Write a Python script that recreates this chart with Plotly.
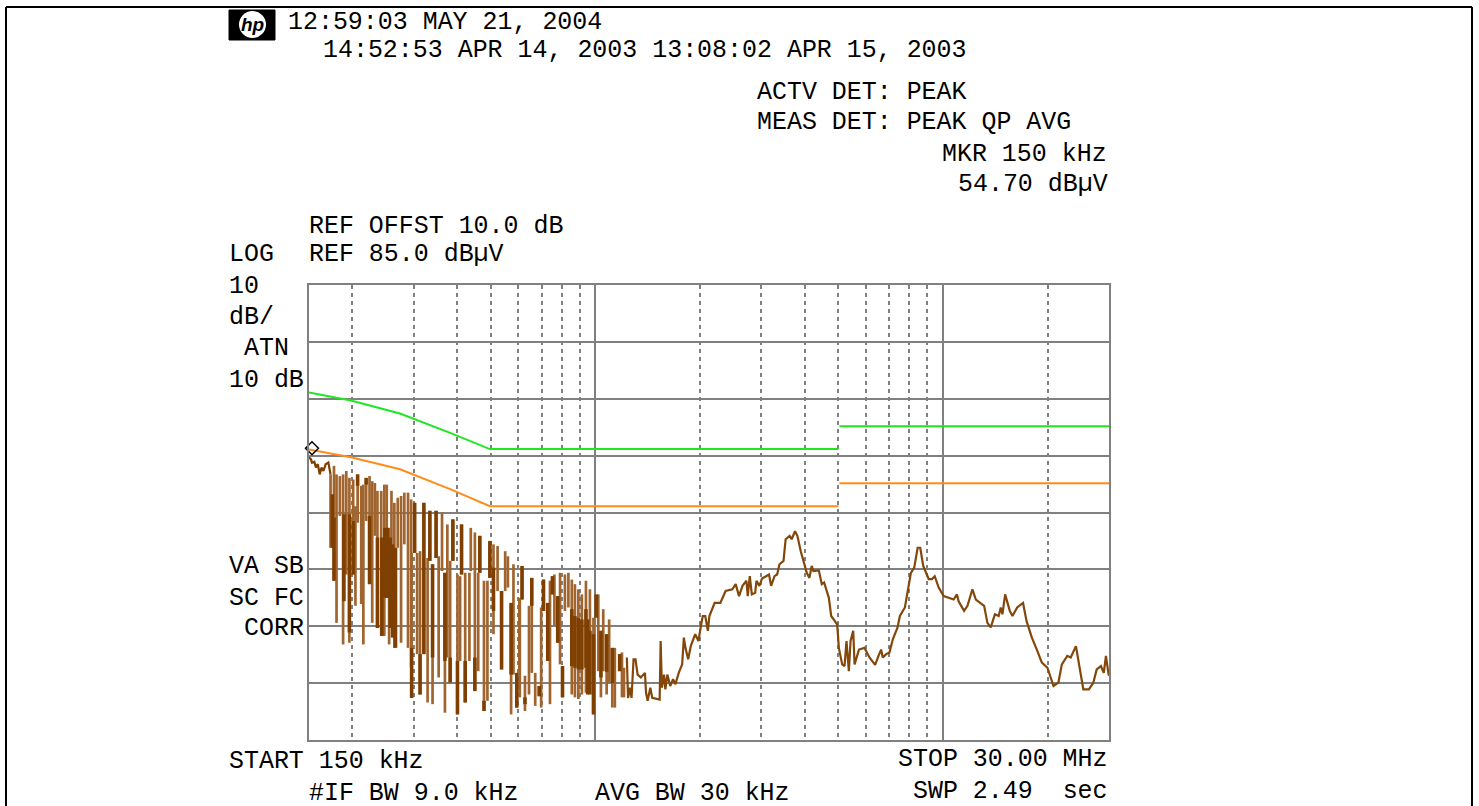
import plotly.graph_objects as go

# ---------- data ----------
start_khz = [150, 152, 153, 155.4, 157, 159, 161, 163, 165, 167.5, 170.5, 173]
start_db = [54.7, 54.35, 53.76, 53.94, 52.9, 53.5, 51.7, 52.9, 52.3, 53.5, 53.8, 51.7]

comb_khz = [173, 177, 180, 184, 188, 192, 196, 201, 204, 207, 212, 215, 219, 224, 228, 232, 236, 242, 247, 251,
            255, 259, 264, 270, 276, 282, 289, 295, 296, 302, 307, 313, 321, 329, 334, 340, 348, 354, 362, 369,
            375, 382, 389, 401, 408, 412, 422, 434, 438, 450, 460, 465, 478, 489, 497, 509, 523, 537, 550, 560,
            572, 581, 594, 604, 606, 615, 627, 644, 656, 671, 689, 698, 709, 729, 740, 752, 762, 779, 791, 804,
            817, 836, 855, 873, 893, 914, 939, 964, 987, 1019, 1037, 1053, 1077, 1095, 1118, 1137, 1174, 1192, 1208]
comb_top = [51.7, 53.2, 51.7, 51.4, 51.7, 52.3, 51.1, 50.8, 46.1, 51.7, 49.7, 49.9, 50.5, 51.4, 50.5, 50.2, 48.8, 48.8, 49.9, 49.9,
            42.3, 48.8, 46.7, 47.6, 47.9, 48.5, 48.5, 47.3, 37.9, 46.7, 37.9, 38.2, 46.7, 37, 45.3, 35.9, 45.3, 37.3, 45, 34.4,
            42.9, 36.5, 43.8, 34.1, 33.8, 42.9, 34.4, 34.4, 42.3, 41.5, 34.4, 40.9, 33, 33, 40, 39.4, 39.1, 31.2, 38.2, 37.3,
            29.1, 35.9, 16.8, 30, 29.7, 35.6, 16.3, 28.6, 33.5, 16.8, 14.5, 28.3, 33.2, 29.1, 33, 33.8, 34.1, 30.3, 34.4, 18,
            34.1, 34.4, 33.2, 32.4, 31.5, 30.6, 33, 31.5, 26.5, 30.6, 24.2, 28, 23.6, 26.2, 21.2, 21.2, 20.1, 20.4, 17.7]
comb_bot = [38.8, 33, 25.6, 44.4, 21.8, 34.1, 22.1, 34.1, 28.6, 43.2, 28.9, 21.8, 43.5, 32.4, 25.6, 40.9, 24.7, 23.3, 23.3, 30,
            21.8, 24.7, 21.2, 38.8, 22.1, 39.4, 21.2, 17.7, 12.4, 37.9, 20.1, 13, 20.1, 11.6, 36.5, 11.3, 37, 16, 34.7, 9.8,
            19.5, 15.1, 36.5, 9.5, 18.9, 34.1, 11.6, 18.9, 34.7, 13.6, 17.1, 34.4, 10.1, 11.9, 33.5, 23.6, 31.2, 17.4, 31.2, 31.8,
            9.5, 16.5, 10.7, 17.1, 12.5, 29.7, 10.1, 13, 16.8, 11, 12.7, 10.7, 27.7, 18.9, 11.3, 30.6, 25, 22.1, 18.3, 12.5,
            27.7, 28.3, 13, 12.5, 12.2, 13, 13.3, 16, 9.5, 17.1, 12.5, 17.1, 13, 15.1, 10.7, 10.7, 17.1, 12.5, 12.5]

dense_khz = [175, 177, 189, 196, 201, 207, 219, 224, 236, 243, 248, 252, 257, 261, 266, 296, 302, 313, 321, 334, 340, 348,
             369, 382, 389, 401, 412, 422, 450, 465, 478, 497, 509, 537, 572, 594, 615, 627, 656, 689, 709, 729, 752, 779,
             804, 855, 873, 893, 914, 939, 950, 964, 987, 1005, 1037, 1077, 1118, 1174]
dense_top = [48.2, 44.1, 44.7, 44.7, 43.5, 51.7, 51.1, 44.4, 40.6, 40.6, 42.3, 42.3, 40.6, 39.4, 38.8, 21.2, 46.7, 20.1, 46.7, 45.3, 35.9, 45.3,
             34.4, 19.5, 43.8, 18.9, 42.9, 18.9, 19.5, 40.9, 11.9, 40, 35.3, 31.2, 29.1, 16.8, 35.6, 12.5, 33.5, 14.5, 33.2, 29.1, 33.8, 30.3,
             18, 28, 26.8, 26.5, 26.2, 28, 26.2, 24.2, 23.6, 30.6, 24.2, 23.6, 21.2, 20.1]
dense_bot = [38.8, 33, 29.4, 23.9, 34.1, 49.7, 49.9, 32.4, 24.7, 23.3, 30, 30, 24.7, 23, 21.2, 12.4, 37.9, 13, 20.1, 36.5, 19.5, 37,
             18.9, 15.1, 36.5, 9.5, 34.1, 11.6, 13.6, 34.4, 10.1, 33.5, 27.7, 17.4, 16.5, 10.7, 29.7, 11.3, 28.6, 12.7, 27.7, 18.9, 30.6, 22.1,
             12.5, 18, 17.7, 17.4, 17.4, 17.7, 13, 13, 9.5, 26.5, 16, 17, 15, 17.1]

trace_mhz = [1.231, 1.241, 1.258, 1.270, 1.287, 1.304, 1.322, 1.351, 1.388, 1.398, 1.413, 1.438, 1.457, 1.530, 1.540, 1.553,
             1.575, 1.589, 1.610, 1.641, 1.672, 1.698, 1.736, 1.776, 1.796, 1.815, 1.848, 1.880,
             1.936, 1.978, 2.014, 2.036, 2.069, 2.106, 2.127, 2.202, 2.287,
             2.368, 2.476, 2.532, 2.588, 2.648, 2.718, 2.742, 2.779, 2.817, 2.880, 2.905,
             2.961, 3.015, 3.096, 3.157, 3.201, 3.273, 3.331, 3.383, 3.475, 3.524, 3.618, 3.668,
             3.750, 3.809, 3.895, 3.982, 4.053, 4.125, 4.188, 4.236, 4.390, 4.477, 4.547,
             4.691, 4.765, 4.872, 4.958, 5.013, 5.125, 5.205, 5.273, 5.357, 5.417, 5.513, 5.563, 5.727,
             5.939, 6.140, 6.375, 6.518, 6.632, 6.705, 6.857, 7.009, 7.167,
             7.395, 7.510, 7.763, 7.902, 8.079, 8.259, 8.448, 8.595, 8.765,
             9.09, 9.29, 9.46, 9.71, 10.04, 10.37, 10.72, 10.96, 11.08,
             11.49, 11.75, 12.14, 12.42, 13.12, 13.41, 13.71, 14.09,
             14.45, 14.65, 14.81, 15.08, 15.55, 15.83, 16.33, 16.98, 17.38,
             18.0, 18.60, 19.23, 19.96, 20.77, 21.46, 21.95,
             22.76, 23.28, 24.10, 24.76, 25.31, 26.27, 27.05, 27.65,
             28.44, 28.98, 29.40, 29.87, 30.0]
trace_db = [19.5, 12.4, 14.2, 12.4, 19.2, 19.2, 16.5, 16, 16.8, 13.3, 11.9, 14.2, 12.4, 12.1, 22.4, 14.2,
            16.5, 13.9, 16.5, 14.5, 15.7, 14.8, 16.8, 18.3, 23, 21.2, 19.2, 21.5,
            23.6, 22.4, 25.3, 26.8, 26.8, 24.2, 26.8, 29.1, 29.1,
            31.2, 31.5, 32.4, 30.3, 32.1, 33, 30.3, 33.8, 30.6, 30.9, 33,
            32.1, 33.4, 33.8, 34.1, 32.1, 33.8, 34.1, 35.9, 36.5, 40.3, 40.9, 40.3,
            41.7, 40.9, 38.2, 35.9, 34.4, 33.5, 35.6, 34.7, 34.8, 32.4, 32.7,
            30, 26.8, 26, 25.3, 21.2, 18.3, 18, 22.4, 17.1, 22.4, 24.2, 18.3, 20.9,
            21.2, 19.5, 18.2, 19.8, 20.9, 19.5, 20.1, 20.4, 22.7,
            24.8, 26.8, 28.3, 31.2, 34.4, 35.3, 38.8, 38.8, 35.6,
            33.3, 33.3, 33.8, 31.8, 30.3, 30, 29.7, 30.6, 29.4,
            27.7, 28.6, 31.5, 29.7, 28.6, 25.6, 24.8, 27.1,
            26.8, 28.3, 27.1, 30.6, 27.7, 26.8, 28.3, 29.1, 25.9,
            23, 20.9, 18.6, 17.7, 14.5, 15.1, 18.3,
            19.8, 19.5, 21.5, 17.1, 13.9, 13.9, 15.1, 17.4,
            18, 16.8, 19.8, 16.8, 16.3]

green_mhz = [0.15, 0.198, 0.274, 0.382, 0.497, 5.0, None, 5.03, 30]
green_db = [66.1, 64.7, 62.4, 59, 56.15, 56.15, None, 60.15, 60.15]
orange_mhz = [0.15, 0.198, 0.274, 0.382, 0.497, 5.0, None, 5.03, 30]
orange_db = [56.1, 54.7, 52.6, 49.1, 46.1, 46.1, None, 50.15, 50.15]

marker_mhz = [0.153]
marker_db = [56.3]

major_grid_mhz = [1, 10]
minor_grid_mhz = [0.2, 0.3, 0.4, 0.5, 0.6, 0.7, 0.8, 0.9, 2, 3, 4, 5, 6, 7, 8, 9, 20]

texts = [
    ("12:59:03 MAY 21, 2004", 286, 22),
    ("14:52:53 APR 14, 2003 13:08:02 APR 15, 2003", 321, 50),
    ("ACTV DET: PEAK", 755, 92),
    ("MEAS DET: PEAK QP AVG", 755, 122),
    ("MKR 150 kHz", 940, 154),
    ("54.70 dBµV", 956, 184),
    ("REF OFFST 10.0 dB", 307, 226),
    ("LOG", 227, 254),
    ("REF 85.0 dBµV", 307, 254),
    ("10", 227, 286),
    ("dB/", 227, 317),
    ("ATN", 242, 348),
    ("10 dB", 227, 380),
    ("VA SB", 227, 566),
    ("SC FC", 227, 598),
    ("CORR", 242, 628),
    ("START 150 kHz", 227, 761),
    ("STOP 30.00 MHz", 896, 759),
    ("#IF BW 9.0 kHz", 307, 793),
    ("AVG BW 30 kHz", 593, 793),
    ("SWP 2.49  sec", 911, 791),
]

# ---------- layout geometry ----------
W, H = 1479, 806
L, R, T, B = 309, 1109, 285, 740


def px(x):
    return (x - L) / (R - L)


def py(y):
    return 1 - (y - T) / (B - T)


def spikes(freqs, tops, bots):
    xs, ys = [], []
    for f, a, b in zip(freqs, tops, bots):
        xs += [f / 1000, f / 1000, None]
        ys += [a, b, None]
    return xs, ys


GRID = "#808080"
BROWN = "#7f3f00"
LIGHT = "#a0652f"

fig = go.Figure()
cx, cy = spikes(comb_khz, comb_top, comb_bot)
fig.add_trace(go.Scatter(x=cx, y=cy, mode="lines", line=dict(color=LIGHT, width=2.7), hoverinfo="skip"))
dx, dy = spikes(dense_khz, dense_top, dense_bot)
fig.add_trace(go.Scatter(x=dx, y=dy, mode="lines", line=dict(color=BROWN, width=3.6), hoverinfo="skip"))
fig.add_trace(go.Scatter(x=[f / 1000 for f in start_khz], y=start_db, mode="lines",
                         line=dict(color=BROWN, width=2.2), hoverinfo="skip"))
fig.add_trace(go.Scatter(x=trace_mhz, y=trace_db, mode="lines", line=dict(color="#84470a", width=2.2), hoverinfo="skip"))
fig.add_trace(go.Scatter(x=green_mhz, y=green_db, mode="lines", line=dict(color="#1fe61f", width=2), hoverinfo="skip"))
fig.add_trace(go.Scatter(x=orange_mhz, y=orange_db, mode="lines", line=dict(color="#ff8c1a", width=2), hoverinfo="skip"))
fig.add_trace(go.Scatter(x=marker_mhz, y=marker_db, mode="markers", cliponaxis=False,
                         marker=dict(symbol="diamond-open", size=10, color="black", line=dict(color="black", width=1.5)),
                         hoverinfo="skip"))

annotations = [dict(text=t, x=px(x), y=py(y), xref="paper", yref="paper", xanchor="left", yanchor="middle",
                    showarrow=False, align="left",
                    font=dict(family="Liberation Mono", size=24.95, color="black")) for t, x, y in texts]
annotations.append(dict(text="<b><i>hp</i></b>", x=px(252), y=py(24), xref="paper", yref="paper", xanchor="center",
                        yanchor="middle", showarrow=False,
                        font=dict(family="Liberation Sans", size=19, color="black")))

shapes = [
    dict(type="rect", xref="paper", yref="paper", x0=px(229), x1=px(275), y0=py(10), y1=py(40),
         fillcolor="black", line=dict(color="black", width=1)),
    dict(type="circle", xref="paper", yref="paper", x0=px(239), x1=px(266), y0=py(11), y1=py(38),
         fillcolor="white", line=dict(color="white", width=0)),
    dict(type="line", xref="paper", yref="paper", x0=px(6), x1=px(1472), y0=py(7), y1=py(7),
         line=dict(color="black", width=2)),
    dict(type="line", xref="paper", yref="paper", x0=px(6), x1=px(6), y0=py(7), y1=py(806),
         line=dict(color="black", width=2)),
    dict(type="line", xref="paper", yref="paper", x0=px(1472), x1=px(1472), y0=py(7), y1=py(806),
         line=dict(color="black", width=2)),
]

fig.update_layout(
    width=W, height=H, autosize=False,
    margin=dict(l=L, r=W - R, t=T, b=H - B, pad=0),
    paper_bgcolor="white", plot_bgcolor="white", showlegend=False,
    annotations=annotations, shapes=shapes,
    xaxis=dict(type="log", range=[-0.82391, 1.47712], tickmode="array", tickvals=major_grid_mhz,
               showticklabels=False, ticks="", showgrid=True, gridcolor=GRID, gridwidth=2, zeroline=False,
               showline=True, mirror=True, linecolor=GRID, linewidth=2,
               minor=dict(tickmode="array", tickvals=minor_grid_mhz, showgrid=True, gridcolor=GRID, gridwidth=2.4,
                          griddash="4px,4px", ticks="")),
    yaxis=dict(range=[5, 85], tick0=5, dtick=10, showticklabels=False, ticks="", showgrid=True, gridcolor=GRID,
               gridwidth=2, zeroline=False, showline=True, mirror=True, linecolor=GRID, linewidth=2),
)

fig.write_html("out.html", config=dict(displayModeBar=False),
               post_script="document.body.style.margin='0';document.body.style.overflow='hidden';")
